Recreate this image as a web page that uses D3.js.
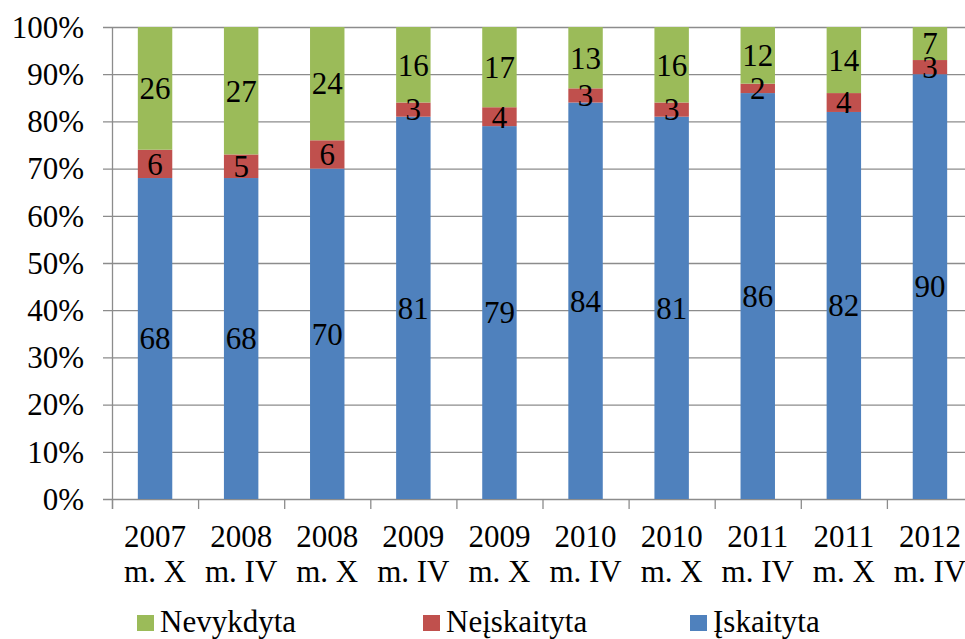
<!DOCTYPE html>
<html><head><meta charset="utf-8">
<script src="https://cdn.jsdelivr.net/npm/d3@7"></script>
<style>body{margin:0;background:#fff}svg{display:block}</style>
</head><body><svg id="c" width="965" height="639"></svg>
<script>
const categories = [["2007","m. X"],["2008","m. IV"],["2008","m. X"],["2009","m. IV"],["2009","m. X"],["2010","m. IV"],["2010","m. X"],["2011","m. IV"],["2011","m. X"],["2012","m. IV"]];
const iskaityta   = [68,68,70,81,79,84,81,86,82,90];
const neiskaityta = [6,5,6,3,4,3,3,2,4,3];
const nevykdyta   = [26,27,24,16,17,13,16,12,14,7];
const seriesNames = ["Įskaityta","Neįskaityta","Nevykdyta"];
const colors = ["#4F81BD","#C0504D","#9BBB59"];
const yTicks = [0,10,20,30,40,50,60,70,80,90,100];

(function(){
const FONT = "Liberation Serif";
const svg = d3.select("#c");
const pL = 112, pR = 973, pT = 27, pB = 499;
const x = d3.scaleBand().domain(d3.range(categories.length)).range([pL,pR]).paddingInner(0.6).paddingOuter(0.3);
const y = d3.scaleLinear().domain([0,100]).range([pB,pT]);
const xb = d3.scaleBand().domain(d3.range(categories.length)).range([pL,pR]);

svg.append("g").selectAll("line").data(yTicks).join("line")
  .attr("x1",103).attr("x2",pR).attr("y1",d=>y(d)+0.5).attr("y2",d=>y(d)+0.5)
  .attr("stroke","#8c8c8c").attr("stroke-width",1.3);
svg.append("line").attr("x1",pL+0.5).attr("x2",pL+0.5).attr("y1",pT).attr("y2",pB+10).attr("stroke","#8c8c8c").attr("stroke-width",1.3);
svg.append("g").selectAll("line").data(d3.range(categories.length+1)).join("line")
  .attr("x1",i=>pL+i*xb.bandwidth()+0.5).attr("x2",i=>pL+i*xb.bandwidth()+0.5)
  .attr("y1",pB).attr("y2",pB+10).attr("stroke","#8c8c8c").attr("stroke-width",1.3);

svg.append("g").selectAll("text").data(yTicks).join("text")
  .attr("font-family",FONT).attr("fill","#000")
  .attr("x",84).attr("y",d=>y(d)).attr("dy","0.35em").attr("text-anchor","end")
  .attr("font-size",31).text(d=>d+"%");

const data = categories.map((c,i)=>({i, a:iskaityta[i], b:neiskaityta[i], c:nevykdyta[i]}));
const stack = d3.stack().keys(["a","b","c"])(data);
const vals = [iskaityta, neiskaityta, nevykdyta];
stack.forEach((layer,k)=>{
  svg.append("g").selectAll("rect").data(layer).join("rect")
    .attr("x",d=>x(d.data.i)).attr("width",x.bandwidth())
    .attr("y",d=>y(d[1])).attr("height",d=>y(d[0])-y(d[1]))
    .attr("fill",colors[k]);
});
stack.forEach((layer,k)=>{
  svg.append("g").selectAll("text").data(layer).join("text")
    .attr("font-family",FONT).attr("fill","#000")
    .attr("x",d=>x(d.data.i)+x.bandwidth()/2).attr("y",d=>y((d[0]+d[1])/2)).attr("dy","0.35em")
    .attr("text-anchor","middle").attr("font-size",31).text(d=>vals[k][d.data.i]);
});

const xl = svg.append("g").selectAll("text").data(categories).join("text")
  .attr("font-family",FONT).attr("fill","#000")
  .attr("text-anchor","middle").attr("font-size",31);
xl.append("tspan").attr("x",(d,i)=>xb(i)+xb.bandwidth()/2).attr("y",547).text(d=>d[0]);
xl.append("tspan").attr("x",(d,i)=>xb(i)+xb.bandwidth()/2).attr("y",582).text(d=>d[1]);

const legendX = [137,423,690];
const order = [2,1,0];
const lg = svg.append("g").selectAll("g").data(order).join("g")
  .attr("transform",(d,j)=>`translate(${legendX[j]},0)`);
lg.append("rect").attr("x",0).attr("y",615).attr("width",17).attr("height",16).attr("fill",d=>colors[d]);
lg.append("text").attr("font-family",FONT).attr("fill","#000")
  .attr("x",23).attr("y",632).attr("font-size",31).text(d=>seriesNames[d]);
})();
</script></body></html>
